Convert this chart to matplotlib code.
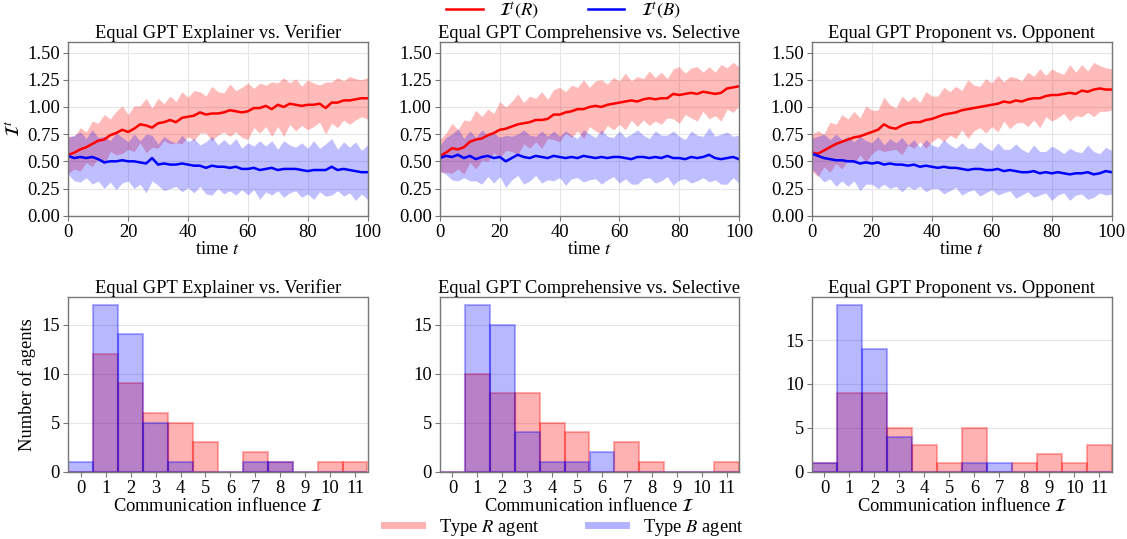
import numpy as np
import matplotlib
matplotlib.use("Agg")
import matplotlib.pyplot as plt
from matplotlib.lines import Line2D

plt.rcParams['font.family'] = ['Liberation Serif', 'DejaVu Serif']
plt.rcParams['mathtext.fontset'] = 'stix'
FS = 13.3
plt.rcParams['font.size'] = FS

titles = ["Equal GPT Explainer vs. Verifier",
          "Equal GPT Comprehensive vs. Selective",
          "Equal GPT Proponent vs. Opponent"]

# time steps (every 2nd step from 0 to 100)
time_steps = list(range(0, 101, 2))

# ---- Panel 1: Explainer vs. Verifier ----
r_mean_ev = [0.56,0.58,0.61,0.63,0.66,0.69,0.70,0.74,0.76,0.79,
             0.77,0.80,0.84,0.83,0.81,0.85,0.86,0.88,0.86,0.90,
             0.91,0.92,0.95,0.93,0.94,0.94,0.95,0.97,0.96,0.95,
             0.96,0.99,0.99,1.01,0.98,1.02,1.00,1.03,1.02,1.01,
             1.02,1.02,1.03,0.99,1.04,1.04,1.06,1.06,1.07,1.08,
             1.08]
r_std_ev = [0.17,0.15,0.20,0.14,0.21,0.16,0.23,0.15,0.20,0.22,
            0.16,0.21,0.17,0.25,0.18,0.23,0.17,0.22,0.19,0.24,
            0.18,0.23,0.19,0.17,0.25,0.20,0.18,0.24,0.19,0.23,
            0.26,0.18,0.23,0.19,0.25,0.20,0.27,0.19,0.24,0.18,
            0.23,0.20,0.17,0.24,0.19,0.23,0.18,0.22,0.19,0.17,
            0.19]
b_mean_ev = [0.55,0.53,0.54,0.53,0.54,0.52,0.49,0.50,0.50,0.51,
             0.50,0.50,0.49,0.48,0.53,0.47,0.48,0.47,0.47,0.48,
             0.47,0.46,0.46,0.44,0.46,0.45,0.45,0.44,0.45,0.43,
             0.43,0.44,0.42,0.43,0.44,0.42,0.43,0.43,0.43,0.42,
             0.41,0.42,0.42,0.42,0.45,0.42,0.43,0.42,0.41,0.40,
             0.40]
b_std_ev = [0.17,0.21,0.23,0.18,0.25,0.20,0.24,0.19,0.26,0.21,
            0.18,0.25,0.20,0.27,0.21,0.19,0.25,0.22,0.20,0.26,
            0.21,0.25,0.19,0.24,0.27,0.20,0.25,0.21,0.26,0.19,
            0.24,0.20,0.27,0.21,0.25,0.19,0.26,0.22,0.20,0.25,
            0.21,0.27,0.20,0.24,0.26,0.19,0.25,0.21,0.27,0.20,
            0.25]

# ---- Panel 2: Comprehensive vs. Selective ----
r_mean_cs = [0.55,0.58,0.62,0.61,0.63,0.68,0.70,0.71,0.74,0.76,
             0.79,0.80,0.82,0.84,0.85,0.86,0.88,0.88,0.89,0.93,
             0.93,0.95,0.96,0.98,0.98,1.00,1.01,1.00,1.02,1.03,
             1.04,1.05,1.06,1.05,1.07,1.08,1.07,1.08,1.08,1.12,
             1.11,1.12,1.13,1.12,1.14,1.13,1.12,1.13,1.17,1.18,
             1.19]
r_std_cs = [0.15,0.18,0.23,0.18,0.25,0.19,0.27,0.20,0.24,0.18,
            0.26,0.20,0.23,0.28,0.19,0.24,0.20,0.26,0.18,0.23,
            0.25,0.19,0.24,0.20,0.27,0.18,0.23,0.25,0.19,0.24,
            0.20,0.26,0.18,0.23,0.19,0.25,0.20,0.24,0.18,0.23,
            0.26,0.19,0.23,0.25,0.18,0.24,0.20,0.26,0.19,0.23,
            0.18]
b_mean_cs = [0.53,0.55,0.54,0.56,0.53,0.55,0.52,0.54,0.55,0.53,
             0.54,0.50,0.53,0.56,0.54,0.53,0.55,0.54,0.53,0.55,
             0.54,0.53,0.54,0.53,0.55,0.54,0.53,0.54,0.53,0.54,
             0.54,0.53,0.52,0.54,0.54,0.53,0.54,0.53,0.55,0.53,
             0.53,0.52,0.54,0.53,0.54,0.56,0.53,0.52,0.53,0.54,
             0.52]
b_std_cs = [0.12,0.17,0.21,0.24,0.18,0.23,0.20,0.25,0.19,0.23,
            0.18,0.24,0.20,0.19,0.25,0.21,0.18,0.24,0.20,0.23,
            0.19,0.25,0.20,0.18,0.24,0.21,0.19,0.25,0.20,0.18,
            0.24,0.19,0.23,0.25,0.20,0.18,0.24,0.21,0.19,0.25,
            0.20,0.18,0.24,0.21,0.19,0.25,0.20,0.23,0.24,0.19,
            0.22]

# ---- Panel 3: Proponent vs. Opponent ----
r_mean_po = [0.58,0.57,0.60,0.63,0.66,0.68,0.70,0.72,0.73,0.75,
             0.77,0.79,0.84,0.81,0.80,0.83,0.85,0.86,0.86,0.88,
             0.89,0.91,0.93,0.94,0.95,0.97,0.98,0.99,1.00,1.01,
             1.02,1.03,1.05,1.04,1.06,1.05,1.07,1.08,1.08,1.10,
             1.11,1.11,1.12,1.13,1.12,1.15,1.14,1.16,1.17,1.16,
             1.16]
r_std_po = [0.17,0.21,0.15,0.23,0.18,0.25,0.19,0.24,0.17,0.26,
            0.20,0.18,0.25,0.21,0.19,0.27,0.20,0.24,0.18,0.26,
            0.21,0.19,0.25,0.20,0.24,0.18,0.27,0.21,0.19,0.25,
            0.20,0.26,0.18,0.24,0.21,0.19,0.25,0.20,0.27,0.19,
            0.24,0.21,0.18,0.26,0.20,0.24,0.19,0.25,0.21,0.20,
            0.19]
b_mean_po = [0.57,0.55,0.53,0.52,0.51,0.51,0.50,0.50,0.48,0.49,
             0.48,0.49,0.47,0.48,0.47,0.47,0.46,0.47,0.45,0.46,
             0.45,0.44,0.45,0.44,0.44,0.43,0.42,0.43,0.43,0.42,
             0.42,0.43,0.41,0.42,0.41,0.40,0.40,0.41,0.39,0.40,
             0.39,0.40,0.39,0.38,0.39,0.39,0.40,0.38,0.39,0.41,
             0.40]
b_std_po = [0.14,0.18,0.22,0.18,0.24,0.19,0.23,0.18,0.25,0.20,
            0.19,0.24,0.18,0.23,0.20,0.25,0.19,0.23,0.18,0.24,
            0.20,0.19,0.25,0.21,0.18,0.24,0.20,0.19,0.25,0.21,
            0.18,0.24,0.20,0.19,0.25,0.21,0.18,0.24,0.20,0.19,
            0.25,0.21,0.18,0.24,0.20,0.19,0.25,0.21,0.18,0.22,
            0.20]

# ---- Histograms: number of agents per influence value ----
influence_bins = list(range(12))
r_counts_ev = [0, 12, 9, 6, 5, 3, 0, 2, 1, 0, 1, 1]
b_counts_ev = [1, 17, 14, 5, 1, 0, 0, 1, 1, 0, 0, 0]
r_counts_cs = [0, 10, 8, 8, 5, 4, 0, 3, 1, 0, 0, 1]
b_counts_cs = [0, 17, 15, 4, 1, 1, 2, 0, 0, 0, 0, 0]
r_counts_po = [1, 9, 9, 5, 3, 1, 5, 0, 1, 2, 1, 3]
b_counts_po = [1, 19, 14, 4, 0, 0, 1, 1, 0, 0, 0, 0]

series = [(r_mean_ev, r_std_ev, b_mean_ev, b_std_ev),
          (r_mean_cs, r_std_cs, b_mean_cs, b_std_cs),
          (r_mean_po, r_std_po, b_mean_po, b_std_po)]
hists = [(r_counts_ev, b_counts_ev),
         (r_counts_cs, b_counts_cs),
         (r_counts_po, b_counts_po)]

W, H = 1127, 539
fig = plt.figure(figsize=(W / 100, H / 100), dpi=100)

lefts = [68.3, 440.0, 812.0]
rights = [367.5, 739.0, 1111.7]
top_y = (41.7, 215.7)
bot_y = (296.7, 471.7)

spine_col = '#777777'
grid_col = '#e6e6e6'

def style(ax, xgrid=True):
    for s in ax.spines.values():
        s.set_color(spine_col)
        s.set_linewidth(1.0)
    ax.tick_params(colors=spine_col, labelcolor='black', length=3.5, width=0.8,
                   labelsize=FS, pad=2.5)
    ax.set_axisbelow(True)
    if xgrid:
        ax.grid(True, color=grid_col, linewidth=0.8)
    else:
        ax.grid(True, axis='y', color=grid_col, linewidth=0.8)

t = np.array(time_steps)
handles_top = None
for i in range(3):
    l, r = lefts[i], rights[i]
    ax = fig.add_axes([l / W, 1 - top_y[1] / H, (r - l) / W, (top_y[1] - top_y[0]) / H])
    rm, rs, bm, bs = [np.array(a) for a in series[i]]
    ax.fill_between(t, rm - rs, rm + rs, color='red', alpha=0.27, linewidth=0)
    ax.fill_between(t, bm - bs, bm + bs, color='blue', alpha=0.25, linewidth=0)
    lr, = ax.plot(t, rm, color='red', lw=1.8)
    lb, = ax.plot(t, bm, color='blue', lw=1.8)
    handles_top = [lr, lb]
    ax.set_xlim(0, 100)
    ax.set_ylim(0, 1.6)
    ax.set_yticks([0, 0.25, 0.5, 0.75, 1.0, 1.25, 1.5])
    ax.set_yticklabels(['0.00', '0.25', '0.50', '0.75', '1.00', '1.25', '1.50'])
    ax.set_xticks([0, 20, 40, 60, 80, 100])
    ax.set_title(titles[i], fontsize=FS, pad=3)
    ax.set_xlabel('time $t$', fontsize=FS, labelpad=0)
    if i == 0:
        ax.set_ylabel(r'$\mathcal{I}^t$', fontsize=FS + 0.5, labelpad=2)
    style(ax, xgrid=True)

    axb = fig.add_axes([l / W, 1 - bot_y[1] / H, (r - l) / W, (bot_y[1] - bot_y[0]) / H])
    rc, bc = hists[i]
    axb.bar(influence_bins, rc, width=1.0, color=(1, 0, 0, 0.3),
            edgecolor=(1, 0, 0, 0.3), linewidth=1.5)
    axb.bar(influence_bins, bc, width=1.0, color=(0, 0, 1, 0.28),
            edgecolor=(0, 0, 1, 0.3), linewidth=1.5)
    axb.set_xlim(-0.5, 11.5)
    axb.set_ylim(0, max(max(rc), max(bc)) * 1.05)
    axb.set_xticks(influence_bins)
    axb.set_yticks([0, 5, 10, 15])
    axb.set_title(titles[i], fontsize=FS, pad=3)
    axb.set_xlabel(r'Communication influence $\mathcal{I}$', fontsize=FS, labelpad=0)
    if i == 0:
        axb.set_ylabel('Number of agents', fontsize=FS, labelpad=4)
    style(axb, xgrid=False)

fig.legend(handles_top, [r'$\mathcal{I}^t(R)$', r'$\mathcal{I}^t(B)$'],
           loc='center', bbox_to_anchor=(0.5, 1 - 11 / H), ncol=2, frameon=False,
           fontsize=FS, handlelength=2.0, columnspacing=2.6, handletextpad=0.9,
           borderaxespad=0, borderpad=0)

bot_handles = [Line2D([], [], color='red', alpha=0.3, lw=5),
               Line2D([], [], color='blue', alpha=0.3, lw=5)]
fig.legend(bot_handles, ['Type $R$ agent', 'Type $B$ agent'],
           loc='center', bbox_to_anchor=(0.5, 1 - 527 / H), ncol=2, frameon=False,
           fontsize=FS, handlelength=2.1, columnspacing=2.6, handletextpad=0.9,
           borderaxespad=0, borderpad=0)

fig.savefig('out.png', dpi=100)
